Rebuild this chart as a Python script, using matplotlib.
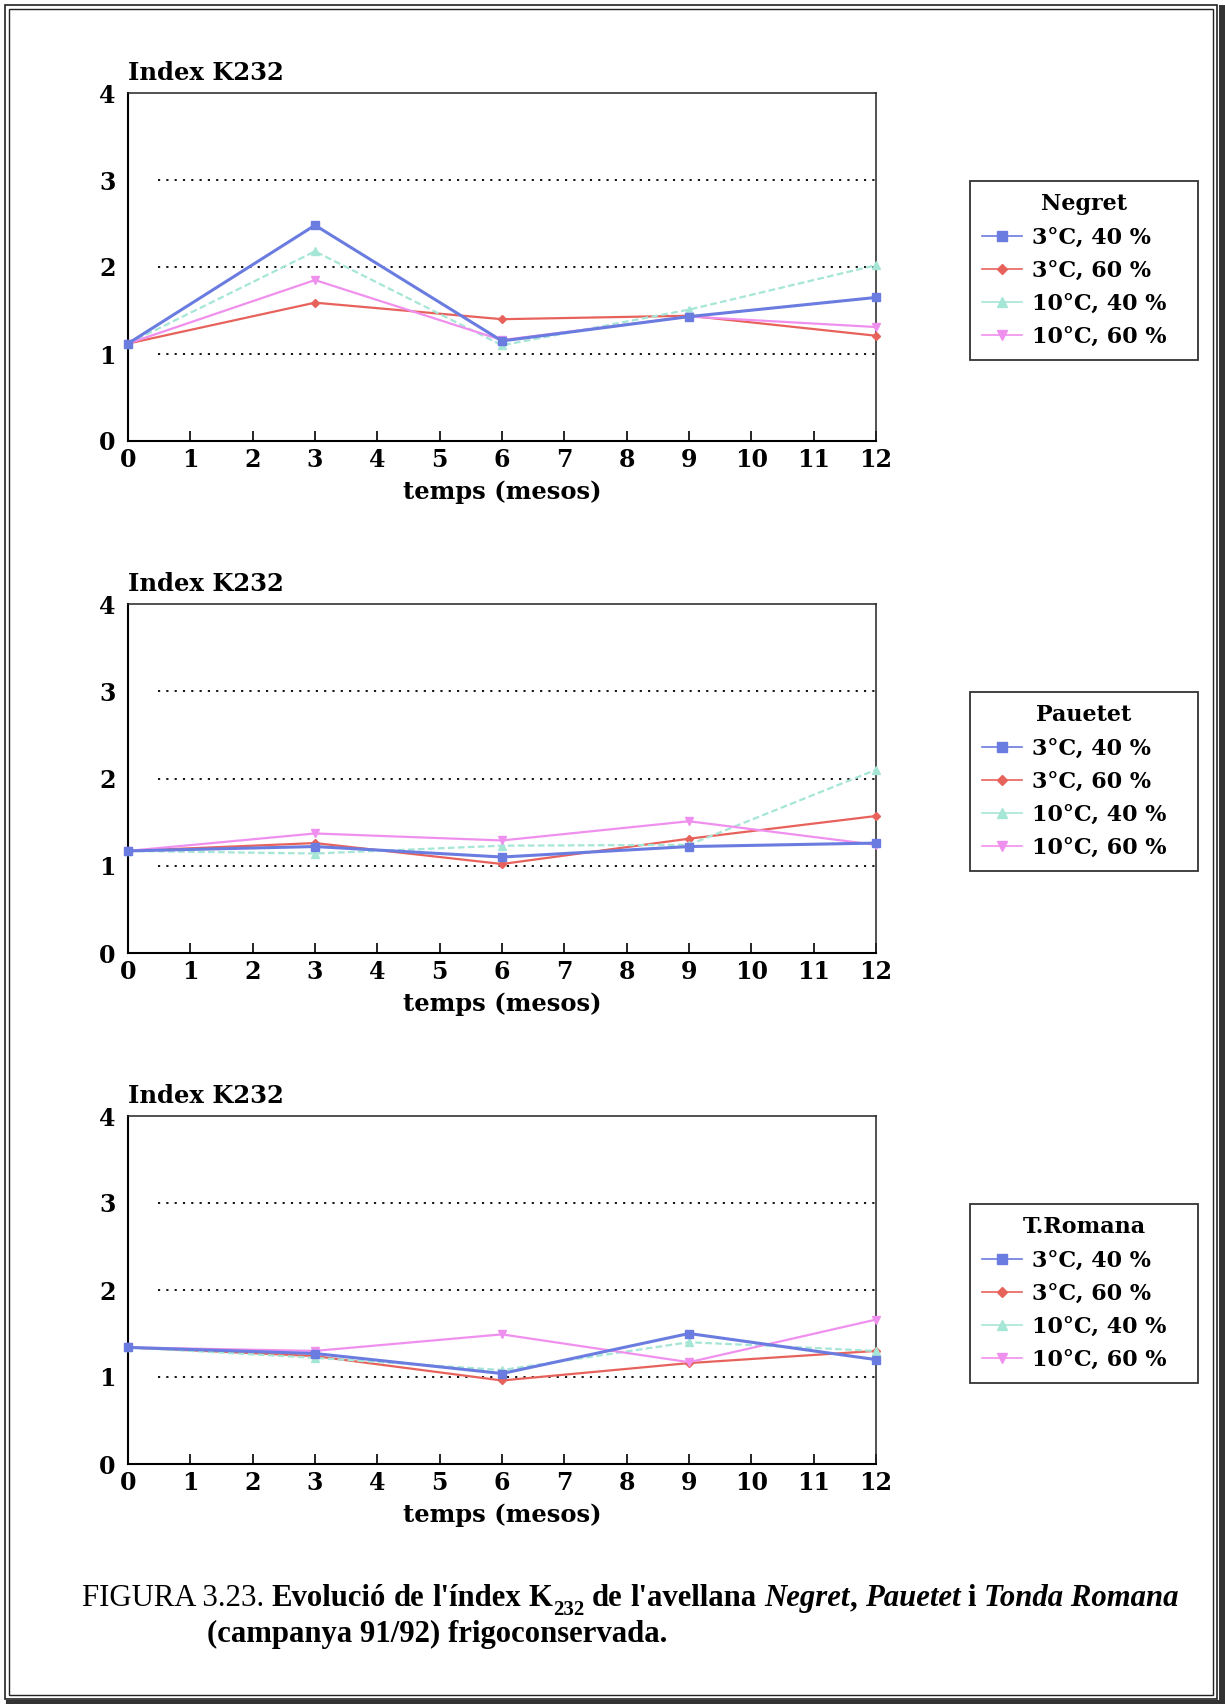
import matplotlib
matplotlib.use('Agg')
import matplotlib.pyplot as plt
from matplotlib.lines import Line2D
from matplotlib.patches import Rectangle
from matplotlib.transforms import IdentityTransform

# ---------------- data ----------------
months = [0, 3, 6, 9, 12]
series_labels = ['3°C, 40 %', '3°C, 60 %', '10°C, 40 %', '10°C, 60 %']
varieties = ['Negret', 'Pauetet', 'T.Romana']
x_ticks = list(range(0, 13))
y_ticks = [0, 1, 2, 3, 4]

negret_3c40 = [1.12, 2.48, 1.15, 1.43, 1.65]
negret_3c60 = [1.12, 1.59, 1.40, 1.44, 1.21]
negret_10c40 = [1.12, 2.18, 1.10, 1.51, 2.02]
negret_10c60 = [1.12, 1.85, 1.16, 1.43, 1.31]

pauetet_3c40 = [1.17, 1.22, 1.10, 1.22, 1.26]
pauetet_3c60 = [1.17, 1.26, 1.02, 1.31, 1.57]
pauetet_10c40 = [1.17, 1.14, 1.23, 1.24, 2.10]
pauetet_10c60 = [1.17, 1.37, 1.29, 1.51, 1.24]

romana_3c40 = [1.34, 1.27, 1.04, 1.50, 1.20]
romana_3c60 = [1.34, 1.24, 0.96, 1.16, 1.30]
romana_10c40 = [1.34, 1.22, 1.08, 1.40, 1.30]
romana_10c60 = [1.34, 1.30, 1.49, 1.17, 1.66]

panel_data = [
    [negret_3c40, negret_3c60, negret_10c40, negret_10c60],
    [pauetet_3c40, pauetet_3c60, pauetet_10c40, pauetet_10c60],
    [romana_3c40, romana_3c60, romana_10c40, romana_10c60],
]

# ---------------- styles ----------------
colors = ['#6b7ce0', '#e8625c', '#a6e6d6', '#f090ee']
markers = ['s', 'D', '^', 'v']
msizes = [5.5, 4.5, 5.5, 6]
lstyles = ['-', '-', (0, (3, 1.5)), '-']
lwidths = [2.2, 1.6, 1.6, 1.6]

W, H = 1225, 1704
fig = plt.figure(figsize=(W / 100, H / 100), dpi=100)
fig.patch.set_facecolor('white')

SERIF = 'DejaVu Serif'
tick_fs = 17
label_fs = 17.5
leg_fs = 16

def fx(px):
    return px / W

def fy(py):
    return 1 - py / H

ax_left, ax_right = 128, 876
panel_tops = [93, 604, 1116]
panel_bottoms = [441, 953, 1464]
legend_tops = [181, 692, 1204]
leg_w, leg_h = 228, 174

for i in range(3):
    top, bot = panel_tops[i], panel_bottoms[i]
    ax = fig.add_axes([fx(ax_left), fy(bot), fx(ax_right - ax_left), (bot - top) / H])
    handles = []
    for j in range(4):
        ax.plot(months, panel_data[i][j], color=colors[j], marker=markers[j],
                markersize=msizes[j], linestyle=lstyles[j], linewidth=lwidths[j],
                markeredgecolor=colors[j], clip_on=False, zorder=3 + (j == 0))
        handles.append(Line2D([], [], color=colors[j], marker=markers[j],
                              markersize=msizes[j] + 1, linewidth=1.2,
                              markeredgecolor=colors[j]))
    ax.set_xlim(0, 12)
    ax.set_ylim(0, 4)
    for yv in [1, 2, 3]:
        ax.axhline(yv, xmin=0.04, xmax=1.0, color='black', linestyle=(0, (1.2, 3.4)),
                   linewidth=1.3, zorder=1)
    ax.set_xticks(x_ticks)
    ax.set_yticks(y_ticks)
    ax.tick_params(axis='x', direction='in', length=7, width=1.2, pad=5,
                   labelsize=tick_fs)
    ax.tick_params(axis='y', length=0, pad=9, labelsize=tick_fs)
    for lab in ax.get_xticklabels() + ax.get_yticklabels():
        lab.set_fontfamily(SERIF)
        lab.set_fontweight('bold')
    for side in ['left', 'bottom']:
        ax.spines[side].set_linewidth(1.5)
    for side in ['top', 'right']:
        ax.spines[side].set_linewidth(1.1)
        ax.spines[side].set_color('#222222')
    ax.set_xlabel('temps (mesos)', fontfamily=SERIF, fontweight='bold',
                  fontsize=label_fs, labelpad=6)
    ax.text(0, 1.022, 'Index K232', transform=ax.transAxes, ha='left', va='bottom',
            fontfamily=SERIF, fontweight='bold', fontsize=label_fs)
    top_f = fy(legend_tops[i])
    leg = fig.legend(handles, series_labels, title=varieties[i], loc='upper left',
                     bbox_to_anchor=(fx(970), top_f - leg_h / H, fx(leg_w), leg_h / H),
                     bbox_transform=fig.transFigure, borderaxespad=0, mode='expand',
                     frameon=True, fancybox=False, edgecolor='black',
                     prop={'family': SERIF, 'weight': 'bold', 'size': leg_fs},
                     title_fontproperties={'family': SERIF, 'weight': 'bold', 'size': leg_fs},
                     handlelength=1.8, handletextpad=0.45, labelspacing=0.5,
                     borderpad=0.55)
    leg.get_frame().set_linewidth(1.3)

# ---------------- caption ----------------
renderer = fig.canvas.get_renderer()
CAP = 'Liberation Serif'

def text_width(s, size, weight, style):
    t = fig.text(0, 0, s, fontsize=size, fontfamily=CAP, fontweight=weight,
                 fontstyle=style, transform=IdentityTransform())
    w = t.get_window_extent(renderer).width
    t.remove()
    return w

def draw_line(pieces, x0, ybase, size, draw=True):
    x = x0
    sp = text_width('a a', size, 'bold', 'normal') - text_width('aa', size, 'bold', 'normal')
    for s, weight, style, sub, gap_before in pieces:
        fs = size * 0.68 if sub else size
        yy = ybase - (0.28 * size * 100 / 72 if sub else 0)
        if gap_before:
            x += sp
        if draw:
            fig.text(x, yy, s, fontsize=fs, fontfamily=CAP, fontweight=weight,
                     fontstyle=style, transform=IdentityTransform(),
                     va='baseline', ha='left')
        x += text_width(s, fs, weight, style)
    return x - x0

line1 = [
    ('FIGURA 3.23.', 'normal', 'normal', False, False),
    ('Evolució', 'bold', 'normal', False, True),
    ('de', 'bold', 'normal', False, True),
    ("l'índex", 'bold', 'normal', False, True),
    ('K', 'bold', 'normal', False, True),
    ('232', 'bold', 'normal', True, False),
    ('de', 'bold', 'normal', False, True),
    ("l'avellana", 'bold', 'normal', False, True),
    ('Negret', 'bold', 'italic', False, True),
    (',', 'bold', 'normal', False, False),
    ('Pauetet', 'bold', 'italic', False, True),
    ('i', 'bold', 'normal', False, True),
    ('Tonda Romana', 'bold', 'italic', False, True),
]
line2 = [('(campanya 91/92) frigoconservada.', 'bold', 'normal', False, False)]

base = 20
w = draw_line(line1, 0, 0, base, draw=False)
cap_size = base * (1179 - 82) / w
draw_line(line1, 82, H - 1606, cap_size)
draw_line(line2, 207, H - 1642, cap_size)

# ---------------- page border ----------------
def rect(x0, y0, x1, y1, lw, color='#222222'):
    fig.add_artist(Rectangle((fx(x0), fy(y1)), fx(x1 - x0), (y1 - y0) / H,
                             transform=fig.transFigure, fill=False,
                             edgecolor=color, linewidth=lw))

rect(5, 5, 1217, 1699, 1.2)
rect(9, 9, 1213, 1695, 1.0)
fig.add_artist(Line2D([fx(1222), fx(1222)], [fy(8), fy(1703)], transform=fig.transFigure,
                      color='#333333', linewidth=5))
fig.add_artist(Line2D([fx(8), fx(1224)], [fy(1702), fy(1702)], transform=fig.transFigure,
                      color='#333333', linewidth=3))

fig.savefig('out.png', dpi=100, facecolor='white')
